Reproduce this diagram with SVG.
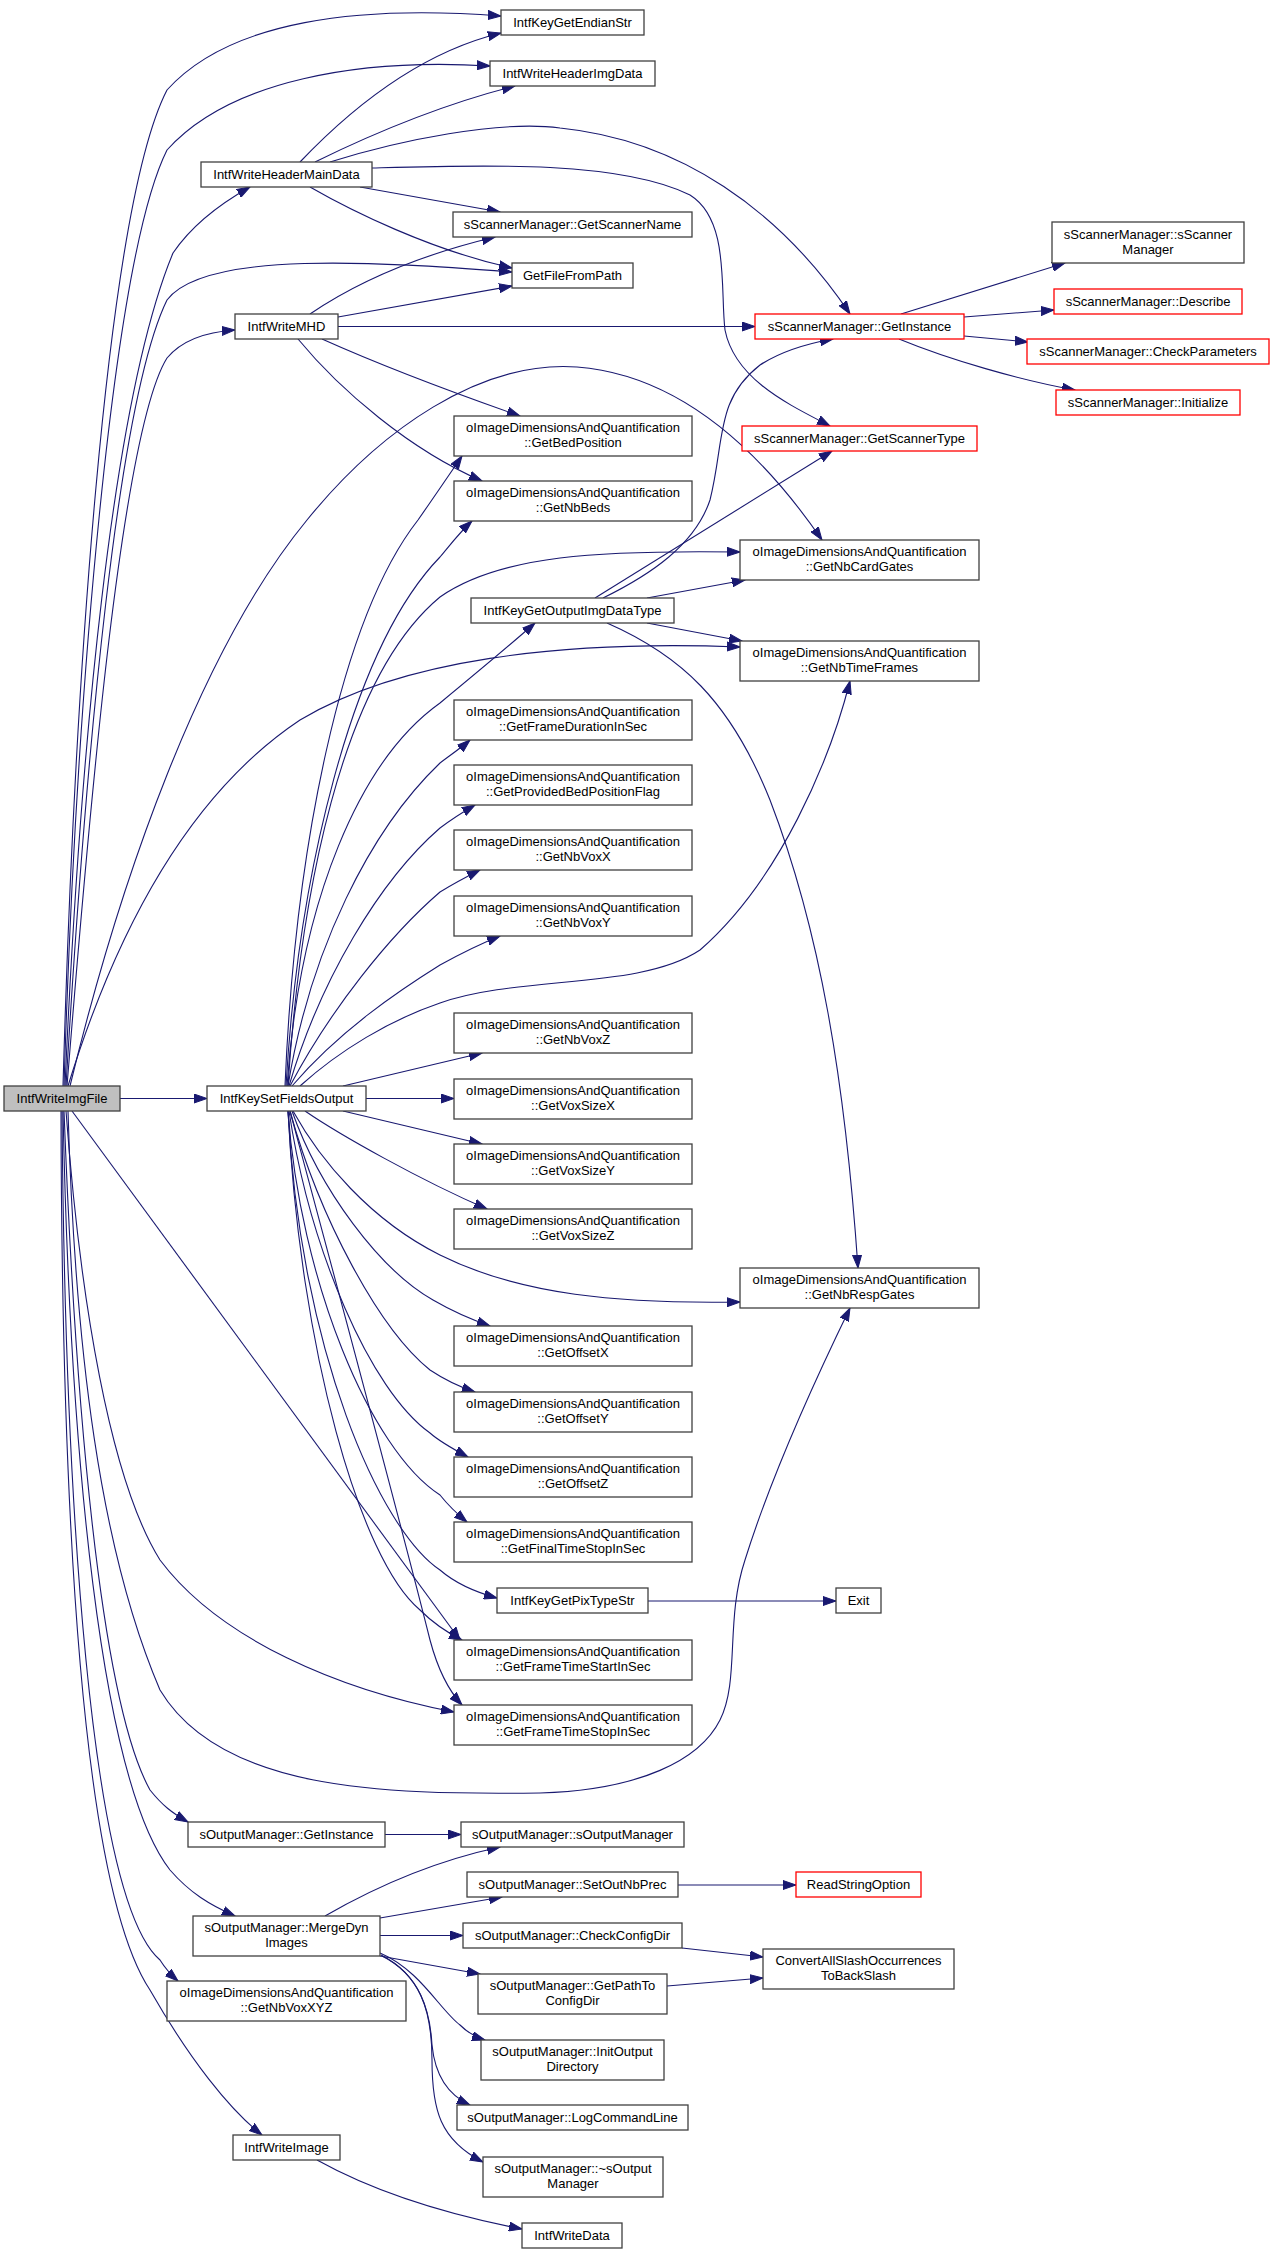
<svg xmlns="http://www.w3.org/2000/svg" width="1271" height="2255" viewBox="0 0 1271 2255">
<defs>
<marker id="a" markerWidth="14" markerHeight="10" refX="13" refY="5" orient="auto" markerUnits="userSpaceOnUse"><path d="M0,0.5 L13,5 L0,9.5 z" fill="#191970" stroke="#191970" stroke-width="1"/></marker>
</defs>
<style>
.n rect{fill:#ffffff;stroke:#404040;stroke-width:1.3}
.r rect{stroke:#ff0000}
.root rect{fill:#bfbfbf}
text{font-family:"Liberation Sans",Arial,Helvetica,sans-serif;font-size:13px;text-anchor:middle;fill:#000000}
#edges path{fill:none;stroke:#191970;stroke-width:1.1;marker-end:url(#a)}
</style>
<rect x="0" y="0" width="1271" height="2255" fill="#ffffff"/>
<g id="edges">
<path d="M63,1086 C74,700 105,210 167,90 C230,20 360,5 501,16"/>
<path d="M64,1086 C76,700 112,260 167,150 C230,80 360,58 490,66"/>
<path d="M65,1086 C80,750 112,400 173,253 C192,225 218,205 250,187"/>
<path d="M66,1086 C86,750 118,400 167,300 C205,250 380,262 512,272"/>
<path d="M67,1086 C90,800 122,430 167,358 C182,340 205,332 235,330"/>
<path d="M70,1086 C120,880 200,650 307,520 C380,430 480,360 577,367 C680,375 760,450 822,540"/>
<path d="M68,1086 C110,950 180,800 300,720 C400,660 560,640 740,647"/>
<path d="M120,1098.5 L207,1098.5"/>
<path d="M72,1111 L460,1640"/>
<path d="M66,1111 C80,1300 110,1480 160,1560 C220,1640 340,1690 454,1712"/>
<path d="M68,1111 C75,1350 100,1550 160,1690 C220,1790 380,1795 540,1793 C640,1790 700,1760 720,1720 C740,1680 725,1620 745,1560 C770,1480 815,1380 850,1308"/>
<path d="M64,1111 C75,1400 100,1700 150,1790 C162,1805 172,1813 188,1822"/>
<path d="M63,1111 C70,1450 100,1780 170,1870 C190,1893 210,1905 235,1916"/>
<path d="M62,1111 C65,1500 90,1900 160,1960 C165,1968 170,1974 178,1981"/>
<path d="M61,1111 C62,1600 90,1900 150,1990 C190,2060 230,2110 262,2135"/>
<path d="M285,1086 C295,850 340,620 418,520 C432,500 447,478 462,456"/>
<path d="M286,1086 C298,880 350,650 440,557 C450,545 460,532 472,521"/>
<path d="M288,1086 C300,900 340,680 440,597 C500,555 600,550 740,552"/>
<path d="M287,1086 C300,900 360,760 440,703 C480,670 510,645 535,623"/>
<path d="M288,1086 C310,950 370,830 440,763 C452,754 462,747 470,740"/>
<path d="M289,1086 C320,980 380,880 440,828 C452,819 463,812 475,805"/>
<path d="M290,1086 C330,1010 390,935 440,892 C453,884 466,877 480,870"/>
<path d="M292,1086 C340,1030 400,990 440,965 C460,954 480,944 500,936"/>
<path d="M300,1086 C340,1050 390,1020 440,1003 C520,975 640,990 700,950 C780,880 830,760 850,681"/>
<path d="M343,1086 L482,1053"/>
<path d="M366,1098.5 L454,1098.5"/>
<path d="M343,1111 L482,1144"/>
<path d="M305,1111 C340,1135 420,1180 487,1209"/>
<path d="M293,1111 C320,1160 370,1220 440,1255 C520,1295 620,1304 740,1302"/>
<path d="M292,1111 C320,1190 380,1270 433,1300 C452,1311 470,1319 490,1326"/>
<path d="M290,1111 C320,1220 380,1330 430,1370 C445,1380 460,1387 475,1392"/>
<path d="M289,1111 C310,1250 370,1390 430,1433 C440,1442 455,1450 468,1457"/>
<path d="M288,1111 C300,1280 370,1450 440,1495 C448,1505 456,1513 467,1522"/>
<path d="M288,1111 C300,1350 380,1530 440,1570 C455,1583 475,1592 497,1598"/>
<path d="M288,1111 C300,1350 360,1560 420,1610 C435,1625 448,1633 462,1640"/>
<path d="M290,1111 C330,1260 400,1520 430,1640 C438,1670 448,1690 462,1705"/>
<path d="M300,162 C340,120 410,55 501,33"/>
<path d="M315,162 C370,135 440,105 515,86"/>
<path d="M330,162 C400,140 500,120 560,128 C680,140 780,210 850,314"/>
<path d="M372,168 C480,165 620,160 690,195 C730,220 720,290 725,330 C735,380 790,405 830,426"/>
<path d="M360,187 L500,212"/>
<path d="M310,187 C350,210 430,250 512,268"/>
<path d="M310,314 C360,280 420,255 495,237"/>
<path d="M338,317 L512,286"/>
<path d="M338,326.5 L755,326.5"/>
<path d="M322,339 C380,365 460,395 520,416"/>
<path d="M298,339 C340,390 410,450 482,481"/>
<path d="M901,314 L1065,263"/>
<path d="M964,317 L1054,310"/>
<path d="M964,336 L1028,342"/>
<path d="M899,339 C950,360 1020,380 1075,390"/>
<path d="M603,598 C650,575 695,545 710,500 C725,440 715,400 760,365 C780,352 805,344 833,339"/>
<path d="M595,598 L832,451"/>
<path d="M647,598 L745,580"/>
<path d="M647,623 L742,641"/>
<path d="M607,623 C680,655 730,700 770,800 C820,930 845,1080 858,1268"/>
<path d="M648,1601 L836,1601"/>
<path d="M385,1834.5 L461,1834.5"/>
<path d="M325,1916 C370,1890 430,1862 500,1847"/>
<path d="M380,1918 L502,1897"/>
<path d="M380,1935.5 L463,1935.5"/>
<path d="M380,1956 L480,1974"/>
<path d="M380,1953 C420,1970 440,2010 460,2025 C467,2032 475,2037 485,2040"/>
<path d="M382,1956 C420,1975 430,2010 432,2045 C435,2075 448,2095 470,2105"/>
<path d="M381,1955 C420,1975 432,2010 432,2060 C432,2110 440,2140 483,2162"/>
<path d="M678,1885 L796,1885"/>
<path d="M682,1948 L763,1957"/>
<path d="M667,1986 L763,1978"/>
<path d="M317,2160 C380,2195 450,2215 522,2229"/>
</g>
<g id="n0" class="n root"><rect x="4" y="1086" width="116" height="25"/><text x="62" y="1103">IntfWriteImgFile</text></g>
<g id="n1" class="n"><rect x="501" y="10" width="143" height="25"/><text x="572.5" y="27">IntfKeyGetEndianStr</text></g>
<g id="n2" class="n"><rect x="490" y="61" width="165" height="25"/><text x="572.5" y="78">IntfWriteHeaderImgData</text></g>
<g id="n3" class="n"><rect x="201" y="162" width="171" height="25"/><text x="286.5" y="179">IntfWriteHeaderMainData</text></g>
<g id="n4" class="n"><rect x="453" y="212" width="239" height="25"/><text x="572.5" y="229">sScannerManager::GetScannerName</text></g>
<g id="n5" class="n"><rect x="512" y="263" width="121" height="25"/><text x="572.5" y="280">GetFileFromPath</text></g>
<g id="n6" class="n"><rect x="235" y="314" width="103" height="25"/><text x="286.5" y="331">IntfWriteMHD</text></g>
<g id="n7" class="n r"><rect x="755" y="314" width="209" height="25"/><text x="859.5" y="331">sScannerManager::GetInstance</text></g>
<g id="n8" class="n"><rect x="1052" y="222" width="192" height="41"/><text x="1148" y="239">sScannerManager::sScanner</text><text x="1148" y="254">Manager</text></g>
<g id="n9" class="n r"><rect x="1054" y="289" width="188" height="25"/><text x="1148" y="306">sScannerManager::Describe</text></g>
<g id="n10" class="n r"><rect x="1027" y="339" width="242" height="25"/><text x="1148" y="356">sScannerManager::CheckParameters</text></g>
<g id="n11" class="n r"><rect x="1056" y="390" width="184" height="25"/><text x="1148" y="407">sScannerManager::Initialize</text></g>
<g id="n12" class="n r"><rect x="742" y="426" width="235" height="25"/><text x="859.5" y="443">sScannerManager::GetScannerType</text></g>
<g id="n13" class="n"><rect x="454" y="416" width="238" height="40"/><text x="573" y="432">oImageDimensionsAndQuantification</text><text x="573" y="447">::GetBedPosition</text></g>
<g id="n14" class="n"><rect x="454" y="481" width="238" height="40"/><text x="573" y="497">oImageDimensionsAndQuantification</text><text x="573" y="512">::GetNbBeds</text></g>
<g id="n15" class="n"><rect x="740" y="540" width="239" height="40"/><text x="859.5" y="556">oImageDimensionsAndQuantification</text><text x="859.5" y="571">::GetNbCardGates</text></g>
<g id="n16" class="n"><rect x="471" y="598" width="203" height="25"/><text x="572.5" y="615">IntfKeyGetOutputImgDataType</text></g>
<g id="n17" class="n"><rect x="740" y="641" width="239" height="40"/><text x="859.5" y="657">oImageDimensionsAndQuantification</text><text x="859.5" y="672">::GetNbTimeFrames</text></g>
<g id="n18" class="n"><rect x="454" y="700" width="238" height="40"/><text x="573" y="716">oImageDimensionsAndQuantification</text><text x="573" y="731">::GetFrameDurationInSec</text></g>
<g id="n19" class="n"><rect x="454" y="765" width="238" height="40"/><text x="573" y="781">oImageDimensionsAndQuantification</text><text x="573" y="796">::GetProvidedBedPositionFlag</text></g>
<g id="n20" class="n"><rect x="454" y="830" width="238" height="40"/><text x="573" y="846">oImageDimensionsAndQuantification</text><text x="573" y="861">::GetNbVoxX</text></g>
<g id="n21" class="n"><rect x="454" y="896" width="238" height="40"/><text x="573" y="912">oImageDimensionsAndQuantification</text><text x="573" y="927">::GetNbVoxY</text></g>
<g id="n22" class="n"><rect x="454" y="1013" width="238" height="40"/><text x="573" y="1029">oImageDimensionsAndQuantification</text><text x="573" y="1044">::GetNbVoxZ</text></g>
<g id="n23" class="n"><rect x="207" y="1086" width="159" height="25"/><text x="286.5" y="1103">IntfKeySetFieldsOutput</text></g>
<g id="n24" class="n"><rect x="454" y="1079" width="238" height="40"/><text x="573" y="1095">oImageDimensionsAndQuantification</text><text x="573" y="1110">::GetVoxSizeX</text></g>
<g id="n25" class="n"><rect x="454" y="1144" width="238" height="40"/><text x="573" y="1160">oImageDimensionsAndQuantification</text><text x="573" y="1175">::GetVoxSizeY</text></g>
<g id="n26" class="n"><rect x="454" y="1209" width="238" height="40"/><text x="573" y="1225">oImageDimensionsAndQuantification</text><text x="573" y="1240">::GetVoxSizeZ</text></g>
<g id="n27" class="n"><rect x="740" y="1268" width="239" height="40"/><text x="859.5" y="1284">oImageDimensionsAndQuantification</text><text x="859.5" y="1299">::GetNbRespGates</text></g>
<g id="n28" class="n"><rect x="454" y="1326" width="238" height="40"/><text x="573" y="1342">oImageDimensionsAndQuantification</text><text x="573" y="1357">::GetOffsetX</text></g>
<g id="n29" class="n"><rect x="454" y="1392" width="238" height="40"/><text x="573" y="1408">oImageDimensionsAndQuantification</text><text x="573" y="1423">::GetOffsetY</text></g>
<g id="n30" class="n"><rect x="454" y="1457" width="238" height="40"/><text x="573" y="1473">oImageDimensionsAndQuantification</text><text x="573" y="1488">::GetOffsetZ</text></g>
<g id="n31" class="n"><rect x="454" y="1522" width="238" height="40"/><text x="573" y="1538">oImageDimensionsAndQuantification</text><text x="573" y="1553">::GetFinalTimeStopInSec</text></g>
<g id="n32" class="n"><rect x="497" y="1588" width="151" height="25"/><text x="572.5" y="1605">IntfKeyGetPixTypeStr</text></g>
<g id="n33" class="n"><rect x="836" y="1588" width="45" height="25"/><text x="858.5" y="1605">Exit</text></g>
<g id="n34" class="n"><rect x="454" y="1640" width="238" height="40"/><text x="573" y="1656">oImageDimensionsAndQuantification</text><text x="573" y="1671">::GetFrameTimeStartInSec</text></g>
<g id="n35" class="n"><rect x="454" y="1705" width="238" height="40"/><text x="573" y="1721">oImageDimensionsAndQuantification</text><text x="573" y="1736">::GetFrameTimeStopInSec</text></g>
<g id="n36" class="n"><rect x="188" y="1822" width="197" height="25"/><text x="286.5" y="1839">sOutputManager::GetInstance</text></g>
<g id="n37" class="n"><rect x="461" y="1822" width="223" height="25"/><text x="572.5" y="1839">sOutputManager::sOutputManager</text></g>
<g id="n38" class="n"><rect x="467" y="1872" width="211" height="25"/><text x="572.5" y="1889">sOutputManager::SetOutNbPrec</text></g>
<g id="n39" class="n r"><rect x="796" y="1872" width="125" height="25"/><text x="858.5" y="1889">ReadStringOption</text></g>
<g id="n40" class="n"><rect x="193" y="1916" width="187" height="40"/><text x="286.5" y="1932">sOutputManager::MergeDyn</text><text x="286.5" y="1947">Images</text></g>
<g id="n41" class="n"><rect x="463" y="1923" width="219" height="25"/><text x="572.5" y="1940">sOutputManager::CheckConfigDir</text></g>
<g id="n42" class="n"><rect x="763" y="1949" width="191" height="40"/><text x="858.5" y="1965">ConvertAllSlashOccurrences</text><text x="858.5" y="1980">ToBackSlash</text></g>
<g id="n43" class="n"><rect x="478" y="1974" width="189" height="40"/><text x="572.5" y="1990">sOutputManager::GetPathTo</text><text x="572.5" y="2005">ConfigDir</text></g>
<g id="n44" class="n"><rect x="167" y="1981" width="239" height="40"/><text x="286.5" y="1997">oImageDimensionsAndQuantification</text><text x="286.5" y="2012">::GetNbVoxXYZ</text></g>
<g id="n45" class="n"><rect x="481" y="2040" width="183" height="40"/><text x="572.5" y="2056">sOutputManager::InitOutput</text><text x="572.5" y="2071">Directory</text></g>
<g id="n46" class="n"><rect x="457" y="2105" width="231" height="25"/><text x="572.5" y="2122">sOutputManager::LogCommandLine</text></g>
<g id="n47" class="n"><rect x="483" y="2157" width="180" height="40"/><text x="573" y="2173">sOutputManager::~sOutput</text><text x="573" y="2188">Manager</text></g>
<g id="n48" class="n"><rect x="233" y="2135" width="107" height="25"/><text x="286.5" y="2152">IntfWriteImage</text></g>
<g id="n49" class="n"><rect x="522" y="2223" width="100" height="25"/><text x="572" y="2240">IntfWriteData</text></g>
</svg>
